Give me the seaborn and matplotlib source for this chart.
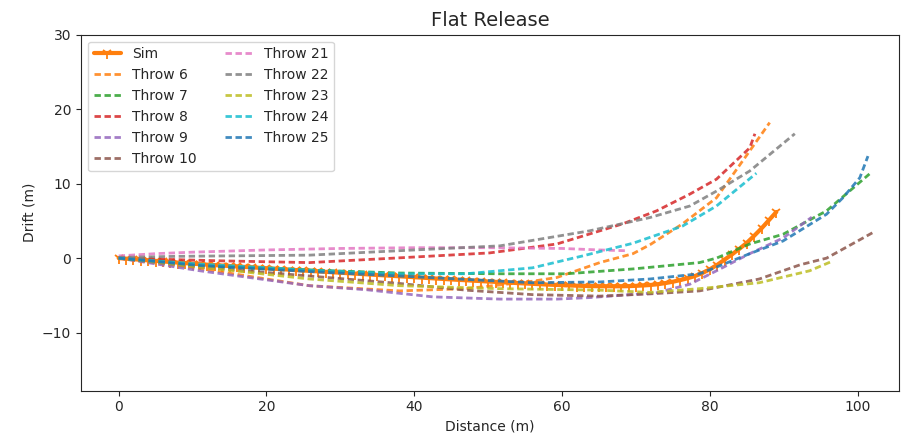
import numpy as np
import pandas as pd
import seaborn as sns
import matplotlib
matplotlib.use("Agg")
import matplotlib.pyplot as plt

# simulated flight path (one point per metre)
sim_x = list(range(0, 90))
sim_y = [0, -0.07, -0.15, -0.22, -0.3, -0.37, -0.45, -0.52, -0.6, -0.67,
         -0.75, -0.81, -0.88, -0.94, -1.0, -1.06, -1.12, -1.18, -1.24, -1.3,
         -1.36, -1.42, -1.48, -1.54, -1.6, -1.66, -1.72, -1.78, -1.84, -1.9,
         -1.96, -2.02, -2.08, -2.14, -2.2, -2.26, -2.32, -2.38, -2.44, -2.5,
         -2.56, -2.62, -2.68, -2.74, -2.8, -2.86, -2.92, -2.97, -3.03, -3.08,
         -3.14, -3.19, -3.25, -3.3, -3.35, -3.4, -3.45, -3.5, -3.55, -3.59,
         -3.63, -3.67, -3.7, -3.73, -3.75, -3.77, -3.78, -3.78, -3.78, -3.76,
         -3.72, -3.67, -3.6, -3.5, -3.35, -3.17, -2.95, -2.7, -2.4, -2.0,
         -1.5, -0.9, -0.2, 0.5, 1.25, 2.05, 3.0, 4.0, 5.1, 6.2]

# measured throws: distance / drift
throw_6_x = [0, 11, 25.8, 38, 47, 51.6, 56, 59.3, 65.1, 69.6, 71.9, 76.3, 80.9, 85.4, 88.1]
throw_6_y = [0, -1.4, -3.7, -4.4, -4.1, -3.6, -3.1, -2.6, -0.6, 0.6, 1.8, 4.6, 8.1, 14.4, 18.2]

throw_7_x = [0, 11, 25.8, 38, 51.6, 60.6, 69.6, 78.6, 80.9, 85.4, 89.9, 95.8, 101.6]
throw_7_y = [0, -1.0, -1.6, -2.0, -2.1, -2.1, -1.45, -0.6, 0.0, 1.9, 3.2, 6.35, 11.3]

throw_8_x = [0, 13.7, 25.8, 38, 50.2, 59.3, 68.2, 72.8, 77.3, 80.9, 85.4, 86.1]
throw_8_y = [0, -0.36, -0.6, 0.04, 0.7, 1.9, 4.6, 6.35, 8.6, 10.6, 14.8, 16.7]

throw_9_x = [0, 11, 25.8, 33.6, 42.5, 51.6, 59.3, 63.7, 72.8, 77.3, 80.9, 85.4, 89.9, 93.8]
throw_9_y = [0, -1.7, -3.7, -4.25, -5.2, -5.5, -5.5, -5.3, -4.65, -3.5, -1.7, 0.6, 2.7, 5.5]

throw_10_x = [0, 11, 25.8, 38, 47, 56, 65.1, 71.9, 78.6, 86.7, 92.2, 95.8, 102]
throw_10_y = [0, -1.2, -2.4, -3.4, -4.3, -4.9, -5.1, -4.8, -4.4, -2.8, -0.9, 0.0, 3.4]

throw_21_x = [0, 5, 10, 20, 30, 40, 50, 55, 60, 65, 68.5]
throw_21_y = [0.3, 0.6, 0.8, 1.1, 1.3, 1.4, 1.4, 1.35, 1.3, 1.1, 1.0]

throw_22_x = [0, 7.8, 25.8, 38, 51.6, 63.7, 71.9, 77.3, 80.9, 85.4, 91.5]
throw_22_y = [0.1, 0.24, 0.4, 1.0, 1.65, 3.66, 5.45, 7.0, 9.0, 11.7, 16.7]

throw_23_x = [0, 11, 25.8, 38, 51.6, 65.1, 71.9, 78.6, 86.7, 93.5, 96.6]
throw_23_y = [0, -1.2, -2.8, -3.7, -4.1, -4.3, -4.6, -4.1, -3.3, -1.7, -0.4]

throw_24_x = [0, 11, 25.8, 38, 47, 56, 62.8, 69.6, 76.3, 80.9, 86.3]
throw_24_y = [0, -0.8, -1.6, -2.1, -2.1, -1.3, 0.3, 2.0, 4.3, 7.0, 11.4]

throw_25_x = [0, 11, 25.8, 38, 56, 65.1, 71.9, 78.6, 80.9, 85.4, 89.9, 95.8, 98, 100.3, 101.4]
throw_25_y = [0, -1.0, -1.8, -2.4, -3.3, -3.2, -2.8, -2.1, -1.2, 0.6, 2.3, 5.9, 8.1, 10.8, 13.7]

throws = [
    ("Throw 6", throw_6_x, throw_6_y, "tab:orange"),
    ("Throw 7", throw_7_x, throw_7_y, "tab:green"),
    ("Throw 8", throw_8_x, throw_8_y, "tab:red"),
    ("Throw 9", throw_9_x, throw_9_y, "tab:purple"),
    ("Throw 10", throw_10_x, throw_10_y, "tab:brown"),
    ("Throw 21", throw_21_x, throw_21_y, "tab:pink"),
    ("Throw 22", throw_22_x, throw_22_y, "tab:gray"),
    ("Throw 23", throw_23_x, throw_23_y, "tab:olive"),
    ("Throw 24", throw_24_x, throw_24_y, "tab:cyan"),
    ("Throw 25", throw_25_x, throw_25_y, "tab:blue"),
]

sns.set_style("ticks")
plt.rcParams['font.family'] = ['DejaVu Sans']

fig = plt.figure(figsize=(9.02, 4.46), dpi=100)
ax = fig.add_axes([81 / 902, 1 - 390.7 / 446, 818 / 902, 356 / 446])

sns.lineplot(x=sim_x, y=sim_y, ax=ax, color="tab:orange", lw=3,
             marker="1", markersize=8, markeredgewidth=1.3,
             markeredgecolor="tab:orange", label="Sim",
             sort=False, estimator=None)
for label, xs, ys, col in throws:
    sns.lineplot(x=xs, y=ys, ax=ax, color=col, lw=2, alpha=0.85,
                 dashes=False, label=label, sort=False, estimator=None)
    ax.lines[-1].set_dashes((2.3, 1.3))

ax.set_xlim(-5.1, 105.6)
ax.set_ylim(-17.8, 30)
ax.set_yticks([-10, 0, 10, 20, 30])
ax.set_xticks([0, 20, 40, 60, 80, 100])
ax.set_xlabel("Distance (m)")
ax.set_ylabel("Drift (m)")
ax.set_title("Flat Release", fontsize=14)
leg = ax.legend(loc="upper left", ncol=2)
for h in leg.get_lines()[1:]:
    h.set_dashes((2.3, 1.3))
for s in ax.spines.values():
    s.set_visible(True)

fig.savefig("out.png", dpi=100)
